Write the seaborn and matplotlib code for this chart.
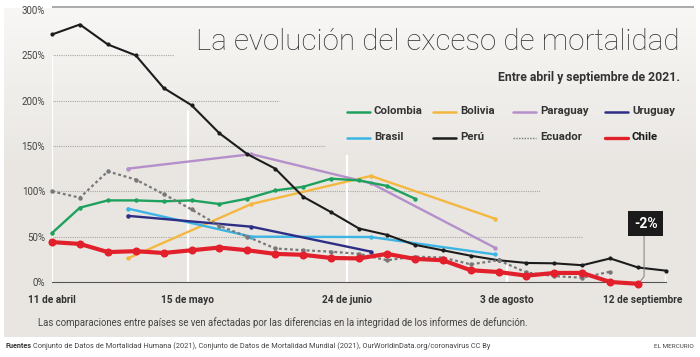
import numpy as np
import pandas as pd
import matplotlib
matplotlib.use("Agg")
import matplotlib.pyplot as plt
from matplotlib.lines import Line2D
import seaborn as sns

# ---------------- data ----------------
weekly_dates = pd.date_range("2021-04-11", "2021-09-12", freq="7D")
monthly_dates = pd.to_datetime(["2021-04-30", "2021-05-31", "2021-06-30", "2021-07-31"])

peru = [273, 284, 262, 250, 214, 195, 164, 141, 125, 94, 77, 59, 52, 41, 35, 29,
        24, 21, 20.6, 18.5, 26, 16, 12.5]
colombia = [54, 82, 90, 90, 89, 90, 86, 92, 101, 105, 114, 112, 106, 92]
ecuador = [100, 93, 122, 113, 97, 80, 62, 50, 37, 35, 33.5, 31, 24, 28, 27, 19.5,
           24, 10.5, 6.5, 4.7, 11.4]
chile = [44, 42, 33, 34, 32, 35, 38, 35, 31, 30, 26.5, 26, 31, 25.5, 24, 13, 11,
         7, 10, 10, 0, -2]
paraguay = [125, 141, 109, 38]
bolivia = [26, 86, 117, 70]
brasil = [81, 50, 49.6, 30.5]
uruguay = [73, 61, 33.5]

x_tick_dates = pd.to_datetime(["2021-04-11", "2021-05-15", "2021-06-24",
                               "2021-08-03", "2021-09-12"])
x_tick_labels = ["11 de abril", "15 de mayo", "24 de junio", "3 de agosto",
                 "12 de septiembre"]
y_ticks = [0, 50, 100, 150, 200, 250, 300]
y_tick_labels = [f"{v}%" for v in y_ticks]

series = {
    "Colombia": (weekly_dates[:len(colombia)], colombia),
    "Bolivia": (monthly_dates, bolivia),
    "Paraguay": (monthly_dates, paraguay),
    "Uruguay": (monthly_dates[:len(uruguay)], uruguay),
    "Brasil": (monthly_dates, brasil),
    "Perú": (weekly_dates[:len(peru)], peru),
    "Ecuador": (weekly_dates[:len(ecuador)], ecuador),
    "Chile": (weekly_dates[:len(chile)], chile),
}
frames = [pd.DataFrame({"date": d, "value": v, "country": c}) for c, (d, v) in series.items()]
df = pd.concat(frames, ignore_index=True)

colors = {"Colombia": "#1fa15e", "Bolivia": "#f4b840", "Paraguay": "#b48fca",
          "Uruguay": "#2d2e85", "Brasil": "#3cb5e5", "Perú": "#1c1c1c",
          "Ecuador": "#787878", "Chile": "#e2202c"}

# ---------------- style ----------------
sns.set_style("white")
plt.rcParams["font.family"] = ["Roboto", "DejaVu Sans"]
TXT = "#333333"

W, H = 700, 357
fig = plt.figure(figsize=(W / 100, H / 100), dpi=100)
fig.patch.set_facecolor("white")

# background panel with a soft vertical gradient
bg = fig.add_axes([4 / W, 1 - 337 / H, 692 / W, 329 / H], zorder=-5)
rows = 329
t = np.clip(np.arange(rows) / 160.0, 0, 1)[:, None]
c0 = np.array([248, 247, 245]) / 255
c1 = np.array([233, 230, 226]) / 255
grad = (c0 * (1 - t) + c1 * t)[:, None, :].repeat(2, axis=1)
bg.imshow(grad, aspect="auto", extent=[0, 1, 0, 1], interpolation="bilinear")
bg.axis("off")

ax = fig.add_axes([52 / W, 1 - 282 / H, 614 / W, 272 / H])
ax.patch.set_alpha(0)
start = pd.Timestamp("2021-04-11")
end = pd.Timestamp("2021-09-12")
ax.set_xlim(start, end)
ax.set_ylim(0, 300)

def day(d):
    return start + pd.Timedelta(days=d)

# partial dotted gridlines
grid_ends = {250: 30.6, 200: 57, 150: 68.5, 100: 122.4, 50: 133}
for v, e in grid_ends.items():
    ax.hlines(v, start, day(e), colors="#a9a7a3", linestyles=(0, (1, 1)), lw=0.8, zorder=1)
ax.hlines(303, start, day(161), colors="#9c9c9c", lw=1.2, clip_on=False, zorder=1)

# white vertical guide lines
for d, top in zip(x_tick_dates, [250, 190, 140, 19, 8]):
    ax.vlines(d, 0, top, colors="white", lw=1.6, zorder=1)

# ---------------- lines ----------------
order = ["Bolivia", "Paraguay", "Brasil", "Uruguay", "Colombia", "Perú", "Ecuador", "Chile"]
for c in order:
    sub = df[df.country == c]
    kw = dict(color=colors[c], lw=1.7, marker="o", ms=3.2, mew=0, zorder=3)
    if c == "Perú":
        kw.update(lw=1.5, ms=3.0)
    if c == "Ecuador":
        kw.update(lw=1.6, linestyle=(0, (1.3, 1.2)), ms=3.2)
    if c == "Chile":
        kw.update(lw=3.0, ms=5.8, zorder=5)
    sns.lineplot(data=sub, x="date", y="value", ax=ax, legend=False,
                 clip_on=False, **kw)

# ---------------- axes ----------------
for s in ["left", "right", "top"]:
    ax.spines[s].set_visible(False)
ax.spines["bottom"].set_color("#555555")
ax.spines["bottom"].set_linewidth(0.8)
ax.set_xlabel("")
ax.set_ylabel("")
ax.set_yticks(y_ticks)
ax.set_yticklabels(y_tick_labels, fontsize=7, color="#444444")
ax.tick_params(axis="y", length=0, pad=5)
ax.set_xticks(x_tick_dates)
ax.set_xticklabels(x_tick_labels[:-1] + [""], fontsize=7.3, fontweight="bold", color=TXT)
ax.tick_params(axis="x", length=5.5, width=0.8, color="#555555", direction="out", pad=4)
ax.annotate(x_tick_labels[-1], xy=(end, 0), xycoords=("data", "axes fraction"),
            xytext=(11.5, -13), textcoords="offset points", ha="right", va="center",
            fontsize=7.3, fontweight="bold", color=TXT)

# -2% callout
ax.text(day(148.9), 64.5, "-2%", ha="center", va="center", fontsize=10,
        fontweight="bold", color="white", zorder=6,
        bbox=dict(boxstyle="square,pad=0.4", fc="#1b1b1b", ec="none"))
ax.plot([day(148.5), day(148.5), day(147.6)], [51, 6, 1], color="#8a8a8a",
        lw=0.8, zorder=4, clip_on=False)

# ---------------- texts ----------------
fig.text(680 / W, 1 - 50 / H, "La evolución del exceso de mortalidad", ha="right",
         va="baseline", fontsize=21.3, fontweight="light", color="#333333")
fig.text(680 / W, 1 - 81.5 / H, "Entre abril y septiembre de 2021.", ha="right",
         va="baseline", fontsize=8.8, fontweight="bold", color=TXT)

legend_items = [
    ("Colombia", 347, 111.5), ("Bolivia", 433, 111.5),
    ("Paraguay", 513, 111.5), ("Uruguay", 605, 111.5),
    ("Brasil", 347, 137.5), ("Perú", 433, 137.5),
    ("Ecuador", 513, 137.5), ("Chile", 605, 137.5),
]
for name, x0, yy in legend_items:
    lw = 1.8
    lsty = "-"
    if name == "Ecuador":
        lw, lsty = 1.0, (0, (1, 1))
    if name == "Chile":
        lw = 2.4
    fig.add_artist(Line2D([x0 / W, (x0 + 23) / W], [1 - yy / H, 1 - yy / H],
                          color=colors[name], lw=lw, linestyle=lsty,
                          transform=fig.transFigure))
    fig.text((x0 + 27) / W, 1 - yy / H, name, ha="left", va="center", fontsize=8.2,
             fontweight="bold", color="#1a1a1a" if name == "Chile" else TXT)

fig.text(38 / W, 1 - 323 / H,
         "Las comparaciones entre países se ven afectadas por las diferencias en la "
         "integridad de los informes de defunción.",
         ha="left", va="center", fontsize=6.9, color="#444444")
fig.text(6 / W, 1 - 346 / H, "Fuentes", ha="left", va="center", fontsize=5.2,
         fontweight="bold", color=TXT)
fig.text(33 / W, 1 - 346 / H,
         "Conjunto de Datos de Mortalidad Humana (2021), Conjunto de Datos de "
         "Mortalidad Mundial (2021), OurWorldinData.org/coronavirus CC By",
         ha="left", va="center", fontsize=5.3, color="#444444")
fig.text(694 / W, 1 - 346 / H, "EL MERCURIO", ha="right", va="center",
         fontsize=4.6, color="#444444")

fig.savefig("out.png", dpi=100)
